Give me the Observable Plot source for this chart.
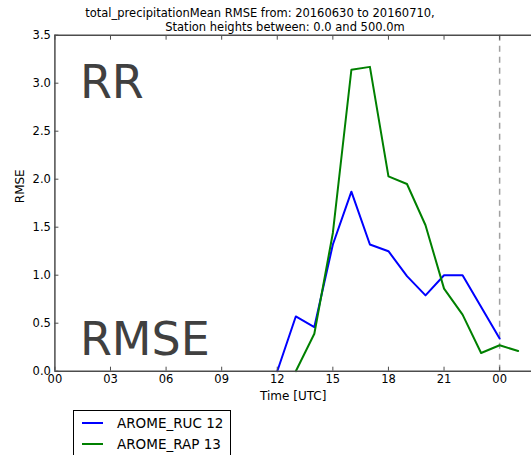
<!DOCTYPE html>
<html><head><meta charset="utf-8">
<script src="https://cdn.jsdelivr.net/npm/d3@7"></script>
<script src="https://cdn.jsdelivr.net/npm/@observablehq/plot@0.6"></script>
<style>
body{margin:0;background:#fff;font-family:"DejaVu Sans",sans-serif;}
#wrap{position:relative;width:531px;height:455px;overflow:hidden;background:#fff;}
#wrap svg{position:absolute;left:0;top:0;}
.t{position:absolute;white-space:nowrap;transform:translateX(-50%);font-size:11.5px;line-height:14px;color:#000;}
#legend{position:absolute;left:73px;top:410px;width:156px;height:60px;border:1px solid #000;background:#fff;font-size:13.5px;color:#000;}
.row{position:absolute;left:0;height:16px;line-height:16px;}
.sw{position:absolute;left:8px;width:21px;height:0;border-top:2px solid;}
.lb{position:absolute;left:43px;white-space:nowrap;}
</style></head><body><div id="wrap"></div>
<script>
const titleLines = ["total_precipitationMean RMSE from: 20160630 to 20160710,", "Station heights between: 0.0 and 500.0m"];
const seriesNames = ["AROME_RUC 12", "AROME_RAP 13"];
const seriesColors = ["#0000ff", "#008000"];
const hoursRUC = [12, 13, 14, 15, 16, 17, 18, 19, 20, 21, 22, 24];
const rmseRUC = [0.0, 0.57, 0.46, 1.32, 1.87, 1.32, 1.25, 0.99, 0.79, 1.00, 1.00, 0.34];
const hoursRAP = [13, 14, 15, 16, 17, 18, 19, 20, 21, 22, 23, 24, 25];
const rmseRAP = [0.0, 0.39, 1.44, 3.14, 3.17, 2.03, 1.95, 1.52, 0.86, 0.59, 0.19, 0.27, 0.21];
const xTicks = [0, 3, 6, 9, 12, 15, 18, 21, 24];
const yTicks = [0, 0.5, 1.0, 1.5, 2.0, 2.5, 3.0, 3.5];
const xDomain = [0, 25.72];
const yDomain = [0, 3.5];
const dashedAt = [24];
const xLabel = "Time [UTC]";
const yLabel = "RMSE";
const panelTexts = ["RR", "RMSE"];

const ruc = hoursRUC.map((h, i) => ({h, v: rmseRUC[i]}));
const rap = hoursRAP.map((h, i) => ({h, v: rmseRAP[i]}));
const hh = d => String(d % 24).padStart(2, "0");
const spine = "#4d4d4d";

const chart = Plot.plot({
  width: 531, height: 411,
  marginTop: 34.7, marginBottom: 40.3, marginLeft: 54.4, marginRight: 0,
  style: {fontFamily: "DejaVu Sans", fontSize: "11.5px", color: "#000", background: "transparent", overflow: "visible"},
  x: {domain: xDomain, axis: null},
  y: {domain: yDomain, axis: null},
  marks: [
    Plot.ruleX(dashedAt, {stroke: "#a0a0a0", strokeWidth: 1.5, strokeDasharray: "6,5"}),
    Plot.line(ruc, {x: "h", y: "v", stroke: seriesColors[0], strokeWidth: 2}),
    Plot.line(rap, {x: "h", y: "v", stroke: seriesColors[1], strokeWidth: 2}),
    Plot.text([panelTexts[0]], {frameAnchor: "top-left", textAnchor: "start", lineAnchor: "top", dx: 25, dy: 30.5, fontSize: 46, fill: "#404040"}),
    Plot.text([panelTexts[1]], {frameAnchor: "bottom-left", textAnchor: "start", lineAnchor: "top", dx: 25, dy: -49, fontSize: 46, fill: "#404040"}),
    Plot.axisX(xTicks, {anchor: "bottom", tickSize: 0, tickPadding: 4, tickFormat: hh, label: null}),
    Plot.axisX(xTicks, {anchor: "bottom", tickSize: -4, fill: "none", stroke: spine, label: null}),
    Plot.axisX(xTicks, {anchor: "top", tickSize: -4, fill: "none", stroke: spine, label: null}),
    Plot.axisY(yTicks, {anchor: "left", tickSize: 0, tickPadding: 4, tickFormat: d3.format(".1f"), label: null}),
    Plot.axisY(yTicks, {anchor: "left", tickSize: -4, fill: "none", stroke: spine, label: null}),
    Plot.ruleY([yDomain[0]], {stroke: spine, strokeWidth: 1.5}),
    Plot.ruleY([yDomain[1]], {stroke: spine, strokeWidth: 1.5}),
    Plot.ruleX([xDomain[0]], {stroke: spine, strokeWidth: 1.5}),
    Plot.text([xLabel], {frameAnchor: "bottom", lineAnchor: "middle", dy: 25.3, fontSize: 12, fill: "#000"}),
    Plot.text([yLabel], {frameAnchor: "left", lineAnchor: "middle", rotate: -90, dx: -34.4, fontSize: 12, fill: "#000"})
  ]
});

const wrap = document.getElementById("wrap");
wrap.appendChild(chart);

const t1 = document.createElement("div");
t1.className = "t"; t1.style.left = "260px"; t1.style.top = "6px"; t1.textContent = titleLines[0];
const t2 = document.createElement("div");
t2.className = "t"; t2.style.left = "285px"; t2.style.top = "20px"; t2.textContent = titleLines[1];
wrap.appendChild(t1); wrap.appendChild(t2);

const lg = document.createElement("div");
lg.id = "legend";
seriesNames.forEach((name, i) => {
  const row = document.createElement("div");
  row.className = "row";
  row.style.top = (4 + i * 21) + "px";
  const sw = document.createElement("div");
  sw.className = "sw"; sw.style.borderColor = seriesColors[i]; sw.style.top = "7px";
  const lb = document.createElement("div");
  lb.className = "lb"; lb.textContent = name;
  row.appendChild(sw); row.appendChild(lb);
  lg.appendChild(row);
});
wrap.appendChild(lg);
</script>
</body></html>
